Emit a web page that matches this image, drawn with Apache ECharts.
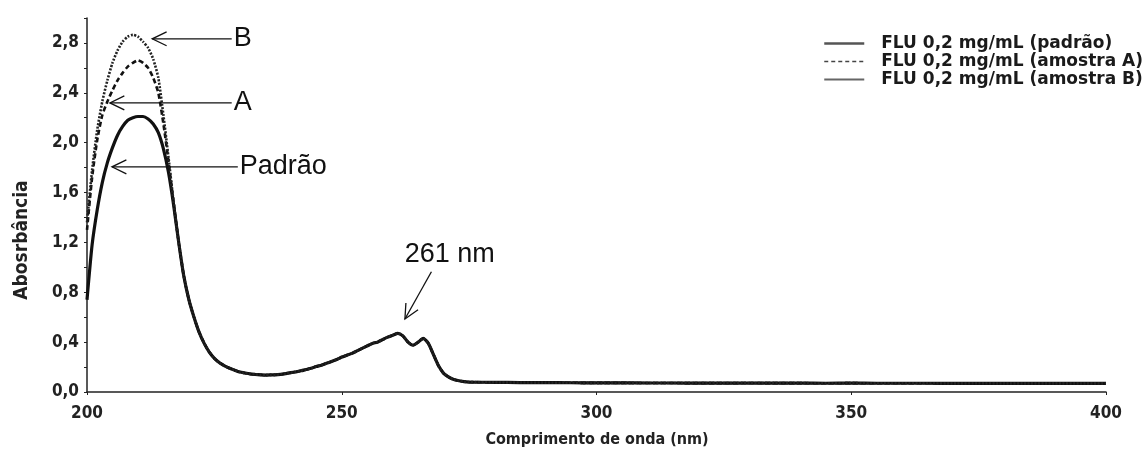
<!DOCTYPE html>
<html><head><meta charset="utf-8">
<script src="https://cdn.jsdelivr.net/npm/echarts@6/dist/echarts.min.js"></script>
<style>html,body{margin:0;padding:0;background:#fff}#c{width:1146px;height:454px}</style>
</head><body><div id="c"></div>
<script>
// Wavelengths (nm) shared by all three spectra
const wavelengths = [
  200,201,202,203,204,205,206,207,208,209,210,211,212,213,214,215,216,217,218,219,220,
  221,222,223,224,225,226,227,228,229,230,231,232,233,234,235,236,237,238,239,240,
  241,242,243,244,245,246,247,248,249,250,251,252,253,254,255,256,257,258,259,260,
  261,262,263,264,265,266,267,268,269,270,271,272,273,274,275,
  280,285,290,295,300,305,310,315,320,325,330,335,340,345,350,355,360,365,370,375,380,385,390,395,400
];
// FLU 0,2 mg/mL (padrão)
const padrao = [
  0.74,1.18,1.46,1.68,1.84,1.96,2.06,2.13,2.18,2.20,2.21,2.21,2.19,2.15,2.08,1.95,1.76,1.50,1.20,0.93,0.74,
  0.60,0.48,0.39,0.32,0.27,0.235,0.21,0.19,0.175,0.16,0.152,0.145,0.141,0.138,0.135,0.137,0.138,0.142,0.148,0.155,
  0.162,0.17,0.18,0.19,0.205,0.215,0.23,0.245,0.26,0.28,0.295,0.31,0.33,0.35,0.37,0.39,0.40,0.42,0.44,0.455,
  0.47,0.45,0.40,0.375,0.40,0.43,0.39,0.30,0.21,0.15,0.12,0.10,0.09,0.083,0.08,
  0.077,0.076,0.075,0.074,0.073,0.073,0.072,0.072,0.071,0.071,0.072,0.071,0.071,0.070,0.071,0.070,0.070,0.070,0.069,0.070,0.069,0.069,0.069,0.069,0.069
];
// Samples A and B differ from the standard only on the first band (200–217 nm)
const peakWavelengths = [200,201,202,203,204,205,206,207,208,209,210,211,212,213,214,215,216,217];
const amostraA = [1.30,1.72,2.02,2.22,2.33,2.42,2.50,2.56,2.61,2.64,2.66,2.64,2.60,2.52,2.40,2.15,1.85,1.52];
const amostraB = [1.36,1.78,2.10,2.33,2.50,2.64,2.74,2.81,2.85,2.865,2.85,2.81,2.76,2.67,2.52,2.22,1.88,1.52];

const xTicks = [200,250,300,350,400];
const seriesNames = ['FLU 0,2 mg/mL (padrão)','FLU 0,2 mg/mL (amostra A)','FLU 0,2 mg/mL (amostra B)'];

// Annotations in data coordinates: [text, arrow start (text side), arrow tip]
const annotations = [
  ['B', [228.4, 2.833], [212.8, 2.833]],
  ['A', [228.4, 2.319], [204.5, 2.319]],
  ['Padrão', [229.6, 1.806], [204.9, 1.806]]
];
const peakNote = ['261 nm', [267.6, 0.965], [262.4, 0.586], [271.2, 1.10]];

function pairs(xs, ys){ return xs.map((x,i)=>[x, ys[i]]); }
const padraoData = pairs(wavelengths, padrao);
const tail = padraoData.filter(p => p[0] > 217);
const aData = pairs(peakWavelengths, amostraA).concat(tail);
const bData = pairs(peakWavelengths, amostraB).concat(tail);

const FONT = "'DejaVu Sans Condensed','DejaVu Sans',sans-serif";
const hidden = {opacity:0, borderWidth:0};
const chart = echarts.init(document.getElementById('c'), null, {renderer:'canvas'});
chart.setOption({
  animation:false,
  backgroundColor:'#fff',
  grid:{left:87, right:40, top:18, bottom:62, outerBoundsMode:'none'},
  legend:{
    orient:'vertical', left:818, top:30, itemWidth:40, itemHeight:12, itemGap:1,
    itemStyle:hidden,
    textStyle:{fontFamily:"'DejaVu Sans',sans-serif", fontWeight:'bold', fontSize:17, lineHeight:16.5, color:'#1a1a1a', padding:[0,0,0,12]},
    data:[
      {name:seriesNames[0], itemStyle:hidden, lineStyle:{width:2.5, color:'#555', type:'solid'}},
      {name:seriesNames[1], itemStyle:hidden, lineStyle:{width:1.5, color:'#444', type:[4,3]}},
      {name:seriesNames[2], itemStyle:hidden, lineStyle:{width:1.8, color:'#666', type:'solid'}}
    ]
  },
  xAxis:{
    type:'value', min:200, max:400, interval:50,
    axisLine:{show:true, onZero:false, lineStyle:{color:'#222', width:1.5}},
    axisTick:{show:true, length:3, lineStyle:{color:'#222'}},
    splitLine:{show:false},
    axisLabel:{margin:13, fontFamily:FONT, fontWeight:'bold', fontSize:17, color:'#222',
      formatter:v => xTicks.includes(v) ? String(v) : ''}
  },
  yAxis:{
    type:'value', min:0, max:3.0, interval:0.4,
    axisLine:{show:true, lineStyle:{color:'#222', width:1.5}},
    axisTick:{show:true, length:3, lineStyle:{color:'#222'}},
    minorTick:{show:true, splitNumber:2, length:3, lineStyle:{color:'#222'}},
    splitLine:{show:false}, minorSplitLine:{show:false},
    axisLabel:{margin:8, showMaxLabel:false, fontFamily:FONT, fontWeight:'bold', fontSize:17, color:'#222',
      formatter:v => v.toFixed(1).replace('.',',')}
  },
  series:[
    {name:seriesNames[0], type:'line', data:padraoData, symbol:'none', smooth:0.2, z:3,
      lineStyle:{color:'#111', width:3.2}},
    {name:seriesNames[1], type:'line', data:aData, symbol:'none', smooth:0.2, z:4,
      lineStyle:{color:'#111', width:2.6, type:[5,3]}},
    {name:seriesNames[2], type:'line', data:bData, symbol:'none', smooth:0.2, z:5,
      lineStyle:{color:'#222', width:2.6, type:[2,1.5]}}
  ]
});

function toPx(p){ return chart.convertToPixel({gridIndex:0}, p); }
function arrowShapes(from, to){
  const a = toPx(from), b = toPx(to);
  const dx = b[0]-a[0], dy = b[1]-a[1], L = Math.hypot(dx,dy);
  const ux = dx/L, uy = dy/L, len = 16, ang = 0.45;
  const arm = s => [b[0] - len*(ux*Math.cos(ang) - s*uy*Math.sin(ang)), b[1] - len*(uy*Math.cos(ang) + s*ux*Math.sin(ang))];
  const st = {stroke:'#111', lineWidth:1.3, fill:null};
  return [
    {type:'line', shape:{x1:a[0], y1:a[1], x2:b[0], y2:b[1]}, style:st, z:10},
    {type:'polyline', shape:{points:[arm(1), b, arm(-1)]}, style:st, z:10}
  ];
}
const ANNOT_FONT = "'Liberation Sans',Arial,sans-serif";
const g = [];
annotations.forEach(([txt, from, to]) => {
  g.push(...arrowShapes(from, to));
  const s = toPx(from);
  g.push({type:'text', x:s[0]+2, y:s[1], z:10,
    style:{text:txt, fontFamily:ANNOT_FONT, fontSize:27, fill:'#111', textVerticalAlign:'middle', textAlign:'left'}});
});
g.push(...arrowShapes(peakNote[1], peakNote[2]));
const tp = toPx(peakNote[3]);
g.push({type:'text', x:tp[0], y:tp[1], z:10,
  style:{text:peakNote[0], fontFamily:ANNOT_FONT, fontSize:27, fill:'#111', textVerticalAlign:'middle', textAlign:'center'}});
g.push({type:'text', x:597, y:440, style:{text:'Comprimento de onda (nm)', fontFamily:FONT, fontWeight:'bold', fontSize:16, fill:'#222', textAlign:'center', textVerticalAlign:'middle'}});
g.push({type:'text', x:22, y:240, rotation:Math.PI/2, style:{text:'Abosrbância', fontFamily:FONT, fontWeight:'bold', fontSize:19, fill:'#222', textAlign:'center', textVerticalAlign:'middle'}});
chart.setOption({graphic:g});
</script>
</body></html>
